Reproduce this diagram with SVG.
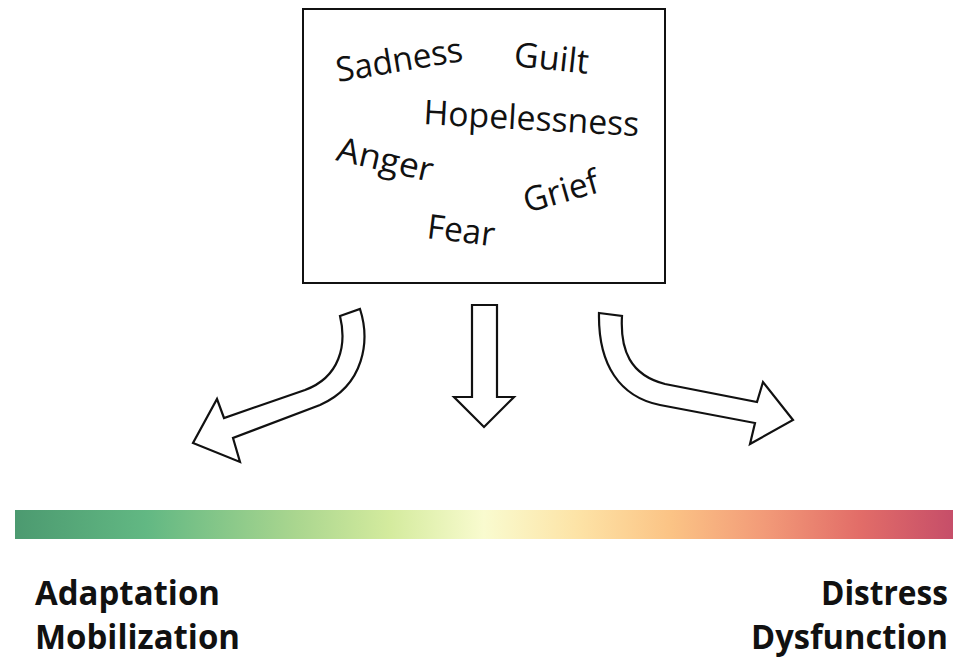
<svg xmlns="http://www.w3.org/2000/svg" width="958" height="658" viewBox="0 0 958 658">
<style>
.emo{font-family:"Open Sans","Noto Sans","Liberation Sans",sans-serif;font-size:34px;fill:#111}
.lbl{font-family:"Open Sans","Liberation Sans",sans-serif;font-weight:bold;font-size:34px;fill:#111}
.arr{fill:#fff;stroke:#111;stroke-width:2.2;stroke-linejoin:miter}
</style>
<defs>
<linearGradient id="grad" x1="0" y1="0" x2="1" y2="0">
<stop offset="0" stop-color="#4c9a70"/>
<stop offset="0.14" stop-color="#62b883"/>
<stop offset="0.3" stop-color="#aad68f"/>
<stop offset="0.4" stop-color="#d4eb9e"/>
<stop offset="0.5" stop-color="#f9fbcf"/>
<stop offset="0.6" stop-color="#fde3a6"/>
<stop offset="0.7" stop-color="#fbc385"/>
<stop offset="0.8" stop-color="#f29a78"/>
<stop offset="0.9" stop-color="#e26d68"/>
<stop offset="1" stop-color="#c64e69"/>
</linearGradient>
</defs>
<rect width="958" height="658" fill="#fff"/>
<g id="emotions">
<rect x="303" y="9" width="362" height="274" fill="#fff" stroke="#111" stroke-width="2"/>
<text class="emo" transform="translate(338 82) rotate(-9.5)" textLength="128" lengthAdjust="spacingAndGlyphs">Sadness</text>
<text class="emo" transform="translate(513 66) rotate(6)" textLength="75" lengthAdjust="spacingAndGlyphs">Guilt</text>
<text class="emo" transform="translate(423 124) rotate(3.2)" textLength="216" lengthAdjust="spacingAndGlyphs">Hopelessness</text>
<text class="emo" transform="translate(335 160) rotate(13)" textLength="98" lengthAdjust="spacingAndGlyphs">Anger</text>
<text class="emo" transform="translate(527 213) rotate(-16)" textLength="77" lengthAdjust="spacingAndGlyphs">Grief</text>
<text class="emo" transform="translate(426 238) rotate(7)" textLength="68" lengthAdjust="spacingAndGlyphs">Fear</text>
</g>
<g id="connectors">
<path class="arr" d="M 340 316 L 360 309 C 370 340, 365 385, 320 405 L 233 438 L 240 462 L 193 443 L 217 399 L 224 418 L 305 390 C 340 377, 347 345, 340 316 Z"/>
<path class="arr" d="M 472 305 L 497 305 L 497 397 L 514 397 L 484 427 L 454 397 L 472 397 Z"/>
<path class="arr" d="M 599 313 L 622 316 C 620 350, 630 375, 665 384 L 757 402 L 763 382 L 793 420 L 750 444 L 755 423 L 660 405 C 620 397, 598 365, 599 313 Z"/>
</g>
<g id="scale">
<rect x="15" y="510" width="938" height="29" fill="url(#grad)"/>
</g>
<g id="left-label">
<text class="lbl" x="35" y="605" textLength="185" lengthAdjust="spacingAndGlyphs">Adaptation</text>
<text class="lbl" x="35" y="649" textLength="205" lengthAdjust="spacingAndGlyphs">Mobilization</text>
</g>
<g id="right-label">
<text class="lbl" x="948" y="605" text-anchor="end" textLength="127" lengthAdjust="spacingAndGlyphs">Distress</text>
<text class="lbl" x="948" y="649" text-anchor="end" textLength="197" lengthAdjust="spacingAndGlyphs">Dysfunction</text>
</g>
</svg>
